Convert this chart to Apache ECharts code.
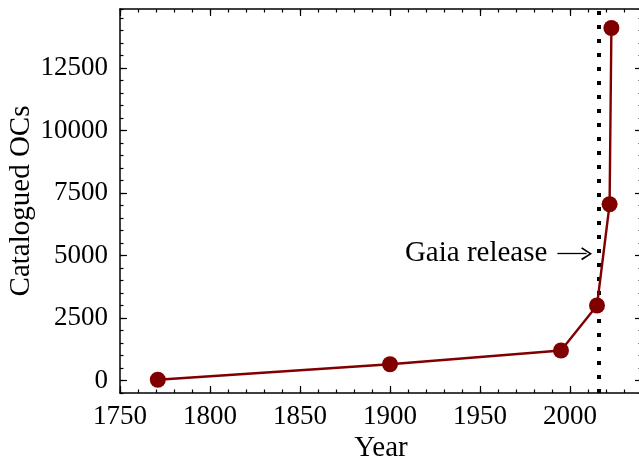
<!DOCTYPE html>
<html>
<head>
<meta charset="utf-8">
<script src="https://cdn.jsdelivr.net/npm/echarts@6/dist/echarts.min.js"></script>
<style>
  html, body { margin: 0; padding: 0; background: #ffffff; }
  #chart { width: 639px; height: 462px; }
</style>
</head>
<body>
<div id="chart"></div>
<script>
// Open-cluster catalogue sizes over time
const years = [1771, 1900, 1995, 2015, 2022, 2023];
const counts = [30, 650, 1200, 3000, 7050, 14100];

// Axis ranges, tick values and minor steps
const xRange = [1750, 2040];
const yRange = [-500, 14860];
const xTicks = [1750, 1800, 1850, 1900, 1950, 2000];
const yTicks = [0, 2500, 5000, 7500, 10000, 12500];
const xMinorStep = 10;
const yMinorStep = 500;

// Gaia release marker and its arrow annotation
const gaiaYear = 2016;
const gaiaLabel = 'Gaia release';
const arrowFrom = [1993, 5075];
const arrowTo = [2009.2, 5075];

const FONT = 'Liberation Serif';
const DARK_RED = '#800000';

function axisDef(kind, pos, major) {
  const range = kind === 'x' ? xRange : yRange;
  const ticks = kind === 'x' ? xTicks : yTicks;
  const def = {
    type: 'value', position: pos, min: range[0], max: range[1],
    axisLine: { show: major, onZero: false, lineStyle: { color: '#000', width: 1.5 } },
    axisTick: { show: true, inside: true, length: major ? 7 : 3.5, lineStyle: { color: '#000', width: 1.2 } },
    axisLabel: { show: false },
    splitLine: { show: false }
  };
  if (major) {
    def.axisTick.customValues = ticks;
    def.axisLabel.customValues = ticks;
  } else {
    def.interval = kind === 'x' ? xMinorStep : yMinorStep;
  }
  return def;
}

const xMain = axisDef('x', 'bottom', true);
Object.assign(xMain, {
  name: 'Year', nameLocation: 'middle', nameGap: 41, nameMoveOverlap: false,
  nameTextStyle: { fontFamily: FONT, fontSize: 29, color: '#000' }
});
xMain.axisLabel = {
  show: true, margin: 10, fontFamily: FONT, fontSize: 27, color: '#000',
  customValues: xTicks, formatter: v => String(v)
};

const yMain = axisDef('y', 'left', true);
Object.assign(yMain, {
  name: 'Catalogued OCs', nameLocation: 'middle', nameGap: 84, nameMoveOverlap: false,
  nameTextStyle: { fontFamily: FONT, fontSize: 29, color: '#000' }
});
yMain.axisLabel = {
  show: true, margin: 12, fontFamily: FONT, fontSize: 27, color: '#000',
  customValues: yTicks, formatter: v => String(v)
};

const chart = echarts.init(document.getElementById('chart'), null, { renderer: 'canvas' });
chart.setOption({
  animation: false,
  backgroundColor: '#ffffff',
  grid: { left: 120, top: 9, width: 522, bottom: 69, containLabel: false, outerBoundsMode: 'none' },
  xAxis: [
    xMain,
    axisDef('x', 'bottom', false),
    axisDef('x', 'top', true),
    axisDef('x', 'top', false)
  ],
  yAxis: [
    yMain,
    axisDef('y', 'left', false),
    axisDef('y', 'right', true),
    axisDef('y', 'right', false)
  ],
  series: [
    {
      type: 'line',
      xAxisIndex: 0, yAxisIndex: 0,
      data: years.map((y, i) => [y, counts[i]]),
      lineStyle: { color: DARK_RED, width: 2.4 },
      itemStyle: { color: DARK_RED },
      symbol: 'circle', symbolSize: 16,
      z: 3,
      markLine: {
        silent: true, symbol: 'none',
        label: { show: false },
        lineStyle: { color: '#000', width: 4, type: [4, 10], cap: 'butt' },
        data: [{ xAxis: gaiaYear }],
        z: 2
      }
    },
    {
      type: 'line',
      xAxisIndex: 0, yAxisIndex: 0,
      data: [],
      markLine: {
        silent: true,
        symbol: ['none', 'path://M0,9 L5,0 L10,9 L9,10 L5,2.6 L1,10 Z'],
        symbolSize: [13, 11],
        lineStyle: { color: '#000', width: 1.3, type: 'solid' },
        label: {
          show: true, position: 'start', distance: 10,
          formatter: gaiaLabel,
          fontFamily: FONT, fontSize: 29, color: '#000'
        },
        data: [[{ coord: arrowFrom }, { coord: arrowTo }]]
      }
    }
  ]
});
</script>
</body>
</html>
